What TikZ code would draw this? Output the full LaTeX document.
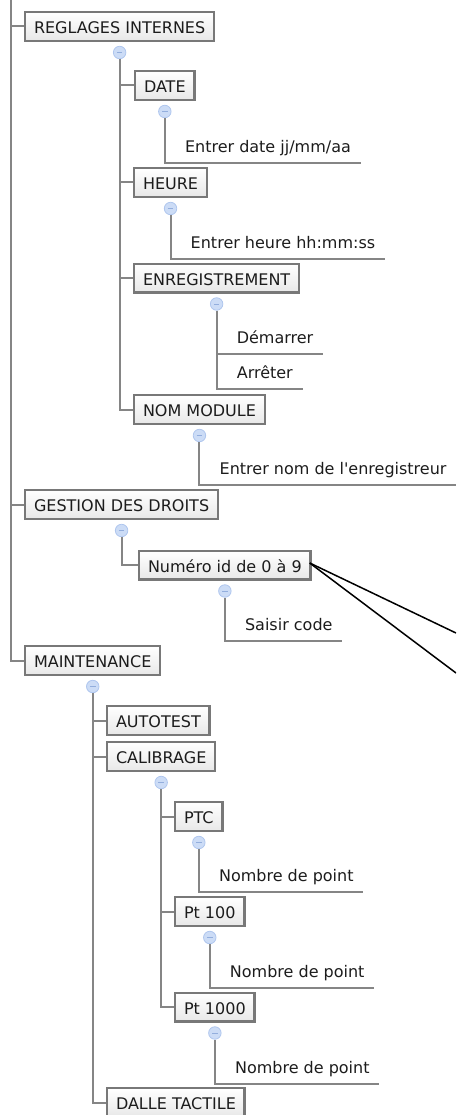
\documentclass[tikz,border=0pt]{standalone}
\usepackage{fontspec}
\newfontfamily\dvfont{DejaVu Sans}
\usetikzlibrary{calc}
\definecolor{lineg}{HTML}{858585}
\definecolor{boxg}{HTML}{787878}
\definecolor{txt}{HTML}{1C1C1C}
\definecolor{togfill}{HTML}{CCDCF6}
\definecolor{togdraw}{HTML}{AFC6EE}
\definecolor{togmin}{HTML}{93AEDD}
\begin{document}
\begin{tikzpicture}[x=1pt,y=-1pt,
 lab/.style={font=\dvfont\fontsize{16}{19}\selectfont, text=txt, text height=16pt, text depth=2pt},
 box/.style={lab, draw=boxg, line width=2.4pt, top color=white, bottom color=black!9, inner xsep=8.8pt, inner ysep=0pt, minimum height=28.6pt, anchor=west},
 leaf/.style={lab, inner xsep=9.5pt, inner ysep=8pt, anchor=south west},
 tog/.style={circle, draw=togdraw, fill=togfill, line width=0.8pt, minimum size=12.5pt, inner sep=0pt,
   path picture={\draw[togmin, line width=1pt] ($(path picture bounding box.center)+(-2.8,0)$) -- ++(5.6,0);}},
 conn/.style={draw=lineg, line width=2pt},
 pointer/.style={draw=black, line width=1.5pt}
]
\useasboundingbox (0,0) rectangle (456,1115);
\clip (0,0) rectangle (456,1115);

\coordinate (top) at (11,0);

% boxes
\node[box] (reg) at (24,26.5) {REGLAGES INTERNES};
\node[box] (date) at (134,85.5) {DATE};
\node[box] (heure) at (133,182.5) {HEURE};
\node[box] (enr) at (133,278) {ENREGISTREMENT};
\node[box] (nom) at (133,409.5) {NOM MODULE};
\node[box] (ges) at (24,504.5) {GESTION DES DROITS};
\node[box] (num) at (138,565) {Numéro id de 0 à 9};
\node[box] (mai) at (24,660.5) {MAINTENANCE};
\node[box] (auto) at (106,720.5) {AUTOTEST};
\node[box] (cal) at (106,756.5) {CALIBRAGE};
\node[box] (ptc) at (174,816.5) {PTC};
\node[box] (pta) at (174,911.5) {Pt 100};
\node[box] (ptb) at (174,1007) {Pt 1000};
\node[box] (dalle) at (106,1102.5) {DALLE TACTILE};

% toggles
\node[tog] (treg) at ($(reg.south)+(0,10.5)$) {};
\node[tog] (tdate) at ($(date.south)+(0,10.5)$) {};
\node[tog] (theure) at ($(heure.south)+(0,10.5)$) {};
\node[tog] (tenr) at ($(enr.south)+(0,10.5)$) {};
\node[tog] (tnom) at ($(nom.south)+(0,10.5)$) {};
\node[tog] (tges) at ($(ges.south)+(0,10.5)$) {};
\node[tog] (tnum) at ($(num.south)+(0,10.5)$) {};
\node[tog] (tmai) at ($(mai.south)+(0,10.5)$) {};
\node[tog] (tcal) at ($(cal.south)+(0,10.5)$) {};
\node[tog] (tptc) at ($(ptc.south)+(0,10.5)$) {};
\node[tog] (tpta) at ($(pta.south)+(0,10.5)$) {};
\node[tog] (tptb) at ($(ptb.south)+(0,10.5)$) {};

% leaves
\node[leaf] (ldate) at ($(tdate|-0,163)+(10.5,0)$) {Entrer date jj/mm/aa};
\node[leaf] (lheure) at ($(theure|-0,259)+(10.5,0)$) {Entrer heure hh:mm:ss};
\node[leaf] (ldem) at ($(tenr|-0,354)+(10.5,0)$) {Démarrer};
\node[leaf] (larr) at ($(tenr|-0,389)+(10.5,0)$) {Arrêter};
\node[leaf] (lnom) at ($(tnom|-0,485)+(10.5,0)$) {Entrer nom de l'enregistreur};
\node[leaf] (lsai) at ($(tnum|-0,641)+(10.5,0)$) {Saisir code};
\node[leaf] (lptc) at ($(tptc|-0,892)+(10.5,0)$) {Nombre de point};
\node[leaf] (lpta) at ($(tpta|-0,988)+(10.5,0)$) {Nombre de point};
\node[leaf] (lptb) at ($(tptb|-0,1084)+(10.5,0)$) {Nombre de point};

% connectors
\draw[conn] (top) |- (reg.west);
\draw[conn] (top) |- (ges.west);
\draw[conn] (top) |- (mai.west);

\draw[conn] (treg.south) |- (date.west);
\draw[conn] (treg.south) |- (heure.west);
\draw[conn] (treg.south) |- (enr.west);
\draw[conn] (treg.south) |- (nom.west);

\draw[conn] (tdate.south) |- (ldate.south east);
\draw[conn] (theure.south) |- (lheure.south east);
\draw[conn] (tenr.south) |- (ldem.south east);
\draw[conn] (tenr.south) |- (larr.south east);
\draw[conn] (tnom.south) |- (lnom.south east);

\draw[conn] (tges.south) |- (num.west);
\draw[conn] (tnum.south) |- (lsai.south east);

\draw[conn] (tmai.south) |- (auto.west);
\draw[conn] (tmai.south) |- (cal.west);
\draw[conn] (tmai.south) |- (dalle.west);

\draw[conn] (tcal.south) |- (ptc.west);
\draw[conn] (tcal.south) |- (pta.west);
\draw[conn] (tcal.south) |- (ptb.west);

\draw[conn] (tptc.south) |- (lptc.south east);
\draw[conn] (tpta.south) |- (lpta.south east);
\draw[conn] (tptb.south) |- (lptb.south east);

% pointer lines
\coordinate (pa) at (456,633);
\coordinate (pb) at (456,673);
\draw[pointer] ($(num.east)+(-2,-2)$) -- (pa);
\draw[pointer] ($(num.east)+(-2,-2)$) -- (pb);
\end{tikzpicture}
\end{document}
